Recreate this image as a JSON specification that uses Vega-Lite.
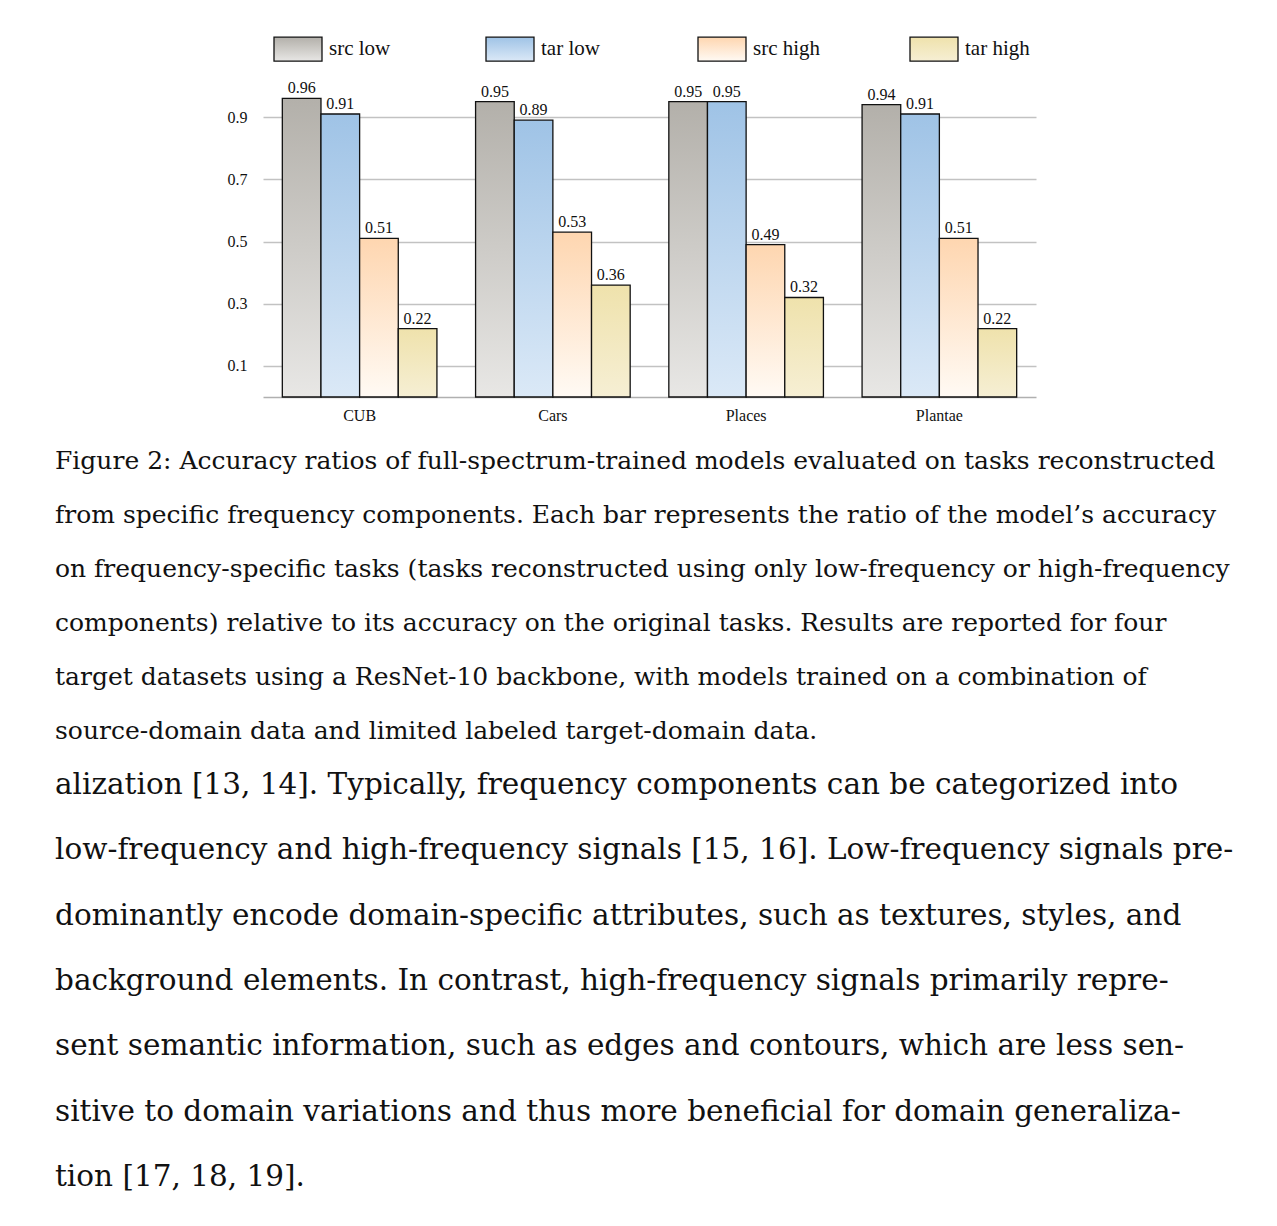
{
  "$schema": "https://vega.github.io/schema/vega-lite/v6.json",
  "width": 773,
  "height": 311,
  "autosize": {"type": "none"},
  "padding": {"left": 263, "top": 86, "right": 241, "bottom": 829},
  "background": "white",
  "config": {
    "font": "Liberation Serif",
    "view": {"stroke": null}
  },
  "title": {
    "text": [
      "Figure 2: Accuracy ratios of full-spectrum-trained models evaluated on tasks reconstructed",
      "from specific frequency components. Each bar represents the ratio of the model’s accuracy",
      "on frequency-specific tasks (tasks reconstructed using only low-frequency or high-frequency",
      "components) relative to its accuracy on the original tasks. Results are reported for four",
      "target datasets using a ResNet-10 backbone, with models trained on a combination of",
      "source-domain data and limited labeled target-domain data."
    ],
    "subtitle": [
      "alization [13, 14].  Typically, frequency components can be categorized into",
      "low-frequency and high-frequency signals [15, 16]. Low-frequency signals pre-",
      "dominantly encode domain-specific attributes, such as textures, styles, and",
      "background elements.  In contrast, high-frequency signals primarily repre-",
      "sent semantic information, such as edges and contours, which are less sen-",
      "sitive to domain variations and thus more beneficial for domain generaliza-",
      "tion [17, 18, 19]."
    ],
    "orient": "bottom",
    "anchor": "start",
    "frame": "group",
    "dx": -208,
    "offset": 26,
    "font": "DejaVu Serif",
    "fontSize": 25,
    "fontWeight": "normal",
    "lineHeight": 54,
    "color": "#111111",
    "subtitleFont": "DejaVu Serif",
    "subtitleFontSize": 29.5,
    "subtitleLineHeight": 65.3,
    "subtitleColor": "#111111",
    "subtitlePadding": 27
  },
  "data": {
    "values": [
      {"dataset": "CUB", "series": "src low", "value": 0.96},
      {"dataset": "CUB", "series": "tar low", "value": 0.91},
      {"dataset": "CUB", "series": "src high", "value": 0.51},
      {"dataset": "CUB", "series": "tar high", "value": 0.22},
      {"dataset": "Cars", "series": "src low", "value": 0.95},
      {"dataset": "Cars", "series": "tar low", "value": 0.89},
      {"dataset": "Cars", "series": "src high", "value": 0.53},
      {"dataset": "Cars", "series": "tar high", "value": 0.36},
      {"dataset": "Places", "series": "src low", "value": 0.95},
      {"dataset": "Places", "series": "tar low", "value": 0.95},
      {"dataset": "Places", "series": "src high", "value": 0.49},
      {"dataset": "Places", "series": "tar high", "value": 0.32},
      {"dataset": "Plantae", "series": "src low", "value": 0.94},
      {"dataset": "Plantae", "series": "tar low", "value": 0.91},
      {"dataset": "Plantae", "series": "src high", "value": 0.51},
      {"dataset": "Plantae", "series": "tar high", "value": 0.22}
    ]
  },
  "encoding": {
    "x": {
      "field": "dataset",
      "type": "nominal",
      "sort": ["CUB", "Cars", "Places", "Plantae"],
      "scale": {"paddingInner": 0.2, "paddingOuter": 0.1},
      "axis": {
        "title": null,
        "labelAngle": 0,
        "ticks": false,
        "domainColor": "#b0b0b0",
        "domainWidth": 1.5,
        "labelFont": "Liberation Serif",
        "labelFontSize": 16,
        "labelColor": "#111111",
        "labelPadding": 10
      }
    },
    "xOffset": {
      "field": "series",
      "type": "nominal",
      "sort": ["src low", "tar low", "src high", "tar high"],
      "scale": {"paddingInner": 0, "paddingOuter": 0}
    },
    "y": {
      "field": "value",
      "type": "quantitative",
      "scale": {"domain": [0, 1], "nice": false},
      "axis": {
        "title": null,
        "values": [0.1, 0.3, 0.5, 0.7, 0.9],
        "format": ".1f",
        "domain": false,
        "ticks": false,
        "grid": true,
        "gridColor": "#c2c2c2",
        "gridWidth": 1.5,
        "labelFont": "Liberation Serif",
        "labelFontSize": 16,
        "labelColor": "#111111",
        "labelPadding": 16
      }
    }
  },
  "layer": [
    {
      "mark": {"type": "bar", "stroke": "#111111", "strokeWidth": 1.3, "opacity": 1},
      "encoding": {
        "fill": {
          "field": "series",
          "type": "nominal",
          "sort": ["src low", "tar low", "src high", "tar high"],
          "scale": {
            "domain": ["src low", "tar low", "src high", "tar high"],
            "range": [
              {"expr": "{gradient: 'linear', x1: 0, y1: 0, x2: 0, y2: 1, stops: [{offset: 0, color: '#b3b0aa'}, {offset: 1, color: '#e8e7e5'}]}"},
              {"expr": "{gradient: 'linear', x1: 0, y1: 0, x2: 0, y2: 1, stops: [{offset: 0, color: '#9fc3e6'}, {offset: 1, color: '#dbe9f7'}]}"},
              {"expr": "{gradient: 'linear', x1: 0, y1: 0, x2: 0, y2: 1, stops: [{offset: 0, color: '#fed6b0'}, {offset: 1, color: '#fffaf4'}]}"},
              {"expr": "{gradient: 'linear', x1: 0, y1: 0, x2: 0, y2: 1, stops: [{offset: 0, color: '#efe2ac'}, {offset: 1, color: '#f6efd4'}]}"}
            ]
          },
          "legend": {
            "title": null,
            "orient": "none",
            "legendX": 10,
            "legendY": -62,
            "direction": "horizontal",
            "columns": 4,
            "gridAlign": "all",
            "columnPadding": 86,
            "symbolType": "M-1,-0.5H1V0.5H-1Z",
            "symbolSize": 2304,
            "symbolStrokeColor": "#111111",
            "symbolStrokeWidth": 1.3,
            "symbolOpacity": 1,
            "labelFont": "Liberation Serif",
            "labelFontSize": 21,
            "labelColor": "#111111",
            "labelOffset": 6
          }
        }
      }
    },
    {
      "mark": {"type": "text", "baseline": "bottom", "dy": -2, "font": "Liberation Serif", "fontSize": 16, "color": "#111111"},
      "encoding": {
        "text": {"field": "value", "type": "quantitative", "format": ".2f"}
      }
    }
  ]
}
